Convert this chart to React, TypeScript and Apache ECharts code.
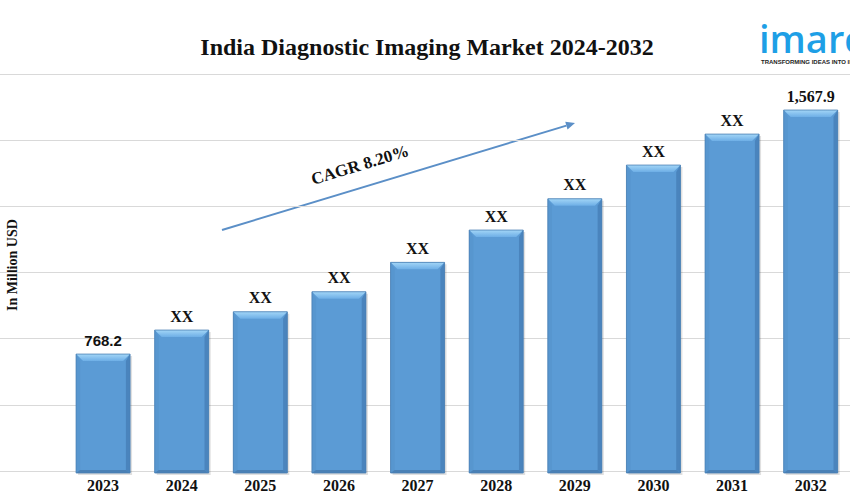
import React, { useEffect, useRef } from "react";
import * as echarts from "echarts";

const categories = ["2023", "2024", "2025", "2026", "2027", "2028", "2029", "2030", "2031", "2032"];
const values = [768.2, 846.9, 906.8, 972.4, 1068.7, 1174.6, 1277.1, 1387.6, 1489.1, 1567.9];
const valueLabels = ["768.2", "XX", "XX", "XX", "XX", "XX", "XX", "XX", "XX", "1,567.9"];
const axisMin = 385;
const axisMax = 1686;

const TITLE = "India Diagnostic Imaging Market 2024-2032";
const Y_NAME = "In Million USD";
const CAGR = "CAGR 8.20%";

export default function App() {
  const ref = useRef<HTMLDivElement>(null);
  useEffect(() => {
    if (!ref.current) return;
    const chart = echarts.init(ref.current, null, { renderer: "svg" });
    const serif = "'Liberation Serif', 'DejaVu Serif', serif";
    const ax0 = 222, ay0 = 230, ax1 = 575, ay1 = 123;
    const ang = Math.atan2(ay1 - ay0, ax1 - ax0);
    const hl = 9, hw = 4;
    const bx = ax1 - hl * Math.cos(ang), by = ay1 - hl * Math.sin(ang);
    const px = -Math.sin(ang) * hw, py = Math.cos(ang) * hw;

    chart.setOption({
      animation: false,
      backgroundColor: "#ffffff",
      title: {
        text: TITLE,
        left: 422,
        top: 30,
        textAlign: "center",
        textStyle: { fontFamily: serif, fontWeight: "bold", fontSize: 24, color: "#111" },
      },
      grid: [
        { left: 63.75, right: -8.75, top: 74, bottom: 28 },
        { left: 0, right: 0, top: 74, bottom: 28 },
      ],
      xAxis: [
        {
          type: "category",
          data: categories,
          gridIndex: 0,
          axisLine: { show: false },
          axisTick: { show: false },
          axisLabel: {
            margin: 6,
            fontFamily: serif,
            fontWeight: "bold",
            fontSize: 16,
            color: "#111",
          },
        },
        { type: "value", gridIndex: 1, show: false, min: 0, max: 1 },
      ],
      yAxis: [
        {
          type: "value",
          gridIndex: 0,
          min: axisMin,
          max: axisMax,
          axisLabel: { show: false },
          axisLine: { show: false },
          axisTick: { show: false },
          splitLine: { show: false },
        },
        {
          type: "value",
          gridIndex: 1,
          min: 0,
          max: 6,
          interval: 1,
          axisLabel: { show: false },
          axisLine: { show: false },
          axisTick: { show: false },
          splitLine: { show: true, lineStyle: { color: "#d9d9d9", width: 1 } },
        },
      ],
      series: [
        {
          type: "custom",
          xAxisIndex: 0,
          yAxisIndex: 0,
          data: values.map((v, i) => [i, v]),
          renderItem: (params: any, api: any) => {
            const idx = api.value(0);
            const v = api.value(1);
            const topP = api.coord([idx, v]);
            const baseP = api.coord([idx, axisMin]);
            const w = 54;
            const x = topP[0] - w / 2;
            const y = topP[1];
            const h = baseP[1] - topP[1] + 2;
            const b = 7;
            const lbl = valueLabels[idx];
            const isSans = idx === 0;
            return {
              type: "group",
              children: [
                {
                  type: "rect",
                  shape: { x: x + 2, y: y + 2, width: w, height: h },
                  style: { fill: "rgba(0,0,0,0.12)" },
                },
                {
                  type: "rect",
                  shape: { x, y, width: w, height: h },
                  style: { fill: "#5b9bd5" },
                },
                {
                  type: "polygon",
                  shape: { points: [[x, y], [x + w, y], [x + w - b, y + b], [x + b, y + b]] },
                  style: {
                    fill: new echarts.graphic.LinearGradient(0, 0, 0, 1, [
                      { offset: 0, color: "#a3d6f7" },
                      { offset: 1, color: "#6daee6" },
                    ]),
                  },
                },
                {
                  type: "polygon",
                  shape: { points: [[x, y], [x + b * 0.6, y + b], [x + b * 0.6, y + h - 3], [x, y + h]] },
                  style: { fill: "#5796cf" },
                },
                {
                  type: "polygon",
                  shape: { points: [[x + w, y], [x + w - b * 0.6, y + b], [x + w - b * 0.6, y + h - 3], [x + w, y + h]] },
                  style: { fill: "#4a84bd" },
                },
                {
                  type: "polygon",
                  shape: { points: [[x, y + h], [x + w, y + h], [x + w - 4, y + h - 3], [x + 4, y + h - 3]] },
                  style: { fill: "#4a80b5" },
                },
                {
                  type: "rect",
                  shape: { x, y, width: w, height: h },
                  style: { fill: "none", stroke: "#4a7fb3", lineWidth: 0.8 },
                },
                {
                  type: "text",
                  x: topP[0],
                  y: y - 6,
                  style: {
                    text: lbl,
                    align: "center",
                    verticalAlign: "bottom",
                    fontFamily: isSans ? "'Liberation Sans', Arial, sans-serif" : serif,
                    fontWeight: "bold",
                    fontSize: isSans ? 15 : 16,
                    fill: "#111",
                  },
                },
              ],
            };
          },
        },
      ],
      graphic: [
        {
          type: "text",
          x: 5,
          y: 311,
          rotation: Math.PI / 2,
          style: {
            text: Y_NAME,
            fontFamily: serif,
            fontWeight: "bold",
            fontSize: 14,
            fill: "#111",
          },
        },
        {
          type: "line",
          shape: { x1: ax0, y1: ay0, x2: bx, y2: by },
          style: { stroke: "#5b8fc7", lineWidth: 2 },
        },
        {
          type: "polygon",
          shape: { points: [[ax1, ay1], [bx + px, by + py], [bx - px, by - py]] },
          style: { fill: "#5b8fc7" },
        },
        {
          type: "text",
          x: 360,
          y: 165,
          rotation: -ang,
          style: {
            text: CAGR,
            align: "center",
            verticalAlign: "middle",
            fontFamily: serif,
            fontWeight: "bold",
            fontSize: 17,
            fill: "#111",
          },
        },
        {
          type: "text",
          x: 759,
          y: 38,
          style: {
            text: "imarc",
            verticalAlign: "middle",
            lineHeight: 30,
            fontFamily: "'Open Sans', Lato, sans-serif",
            fontWeight: 600,
            fontSize: 38,
            fill: "#1e9fe6",
          },
        },
        {
          type: "text",
          x: 761,
          y: 59,
          style: {
            text: "TRANSFORMING IDEAS INTO IMPACT",
            verticalAlign: "top",
            fontFamily: "'Liberation Sans', Arial, sans-serif",
            fontWeight: "bold",
            fontSize: 6,
            fill: "#222",
          },
        },
      ],
    });
    return () => chart.dispose();
  }, []);
  return (
    <div
      ref={ref}
      style={{ position: "fixed", left: 0, top: 0, width: 850, height: 499 }}
    />
  );
}
